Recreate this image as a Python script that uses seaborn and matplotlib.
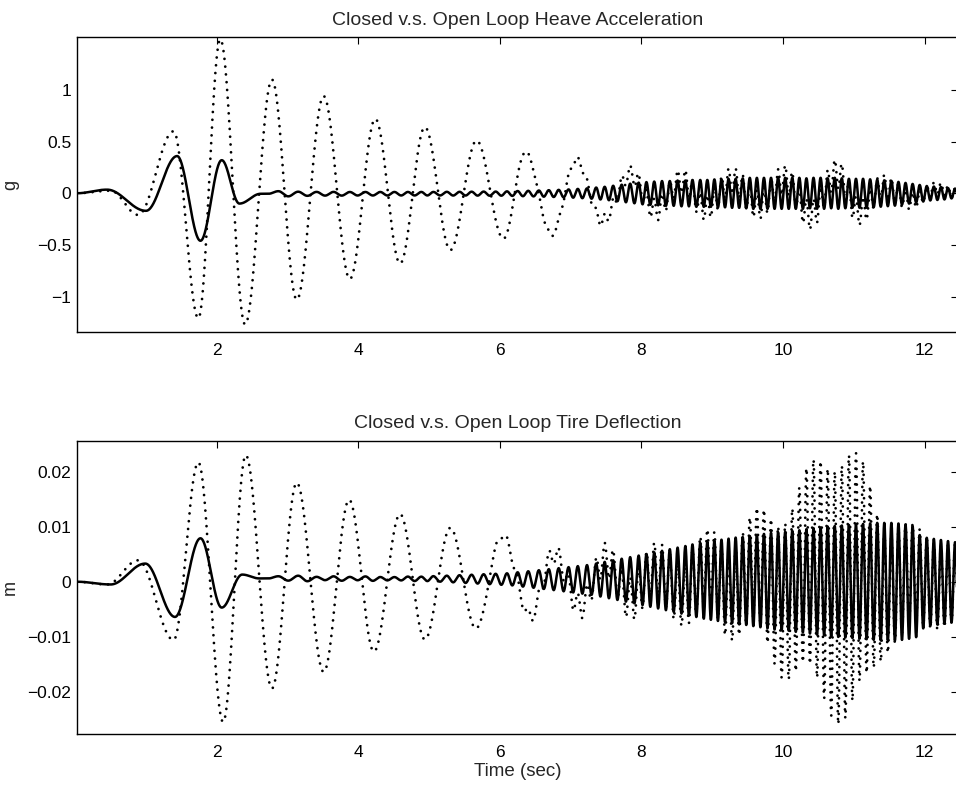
import numpy as np
import pandas as pd
import matplotlib
matplotlib.use("Agg")
import matplotlib.pyplot as plt
import seaborn as sns

# ---- data (extrema of each trace) ----
# slow (body mode) part: times / values of successive peaks and troughs
top_closed_lf_t = [0.025, 0.45, 1.00, 1.44, 1.77, 2.07, 2.32, 2.62, 12.47]
top_closed_lf_v = [0.0, 0.035, -0.17, 0.36, -0.46, 0.32, -0.10, -0.005, 0.0]

top_open_lf_t = [0.025, 0.50, 0.89, 1.39, 1.74, 2.05, 2.40, 2.78, 3.13, 3.51,
                 3.88, 4.24, 4.59, 4.94, 5.30, 5.67, 6.05, 6.36, 6.73, 7.08,
                 7.44, 7.84, 8.19, 8.57, 8.90, 9.28, 9.65, 10.03, 10.38, 10.76,
                 11.07, 11.42, 11.82, 12.18, 12.47]
top_open_lf_v = [0.0, 0.025, -0.21, 0.60, -1.21, 1.49, -1.27, 1.10, -1.03, 0.94,
                 -0.83, 0.72, -0.68, 0.64, -0.55, 0.51, -0.44, 0.40, -0.40, 0.32,
                 -0.27, 0.18, -0.16, 0.12, -0.14, 0.12, -0.11, 0.13, -0.21, 0.19,
                 -0.18, 0.06, -0.07, 0.05, 0.0]

bot_closed_lf_t = [0.025, 0.50, 0.99, 1.41, 1.77, 2.07, 2.36, 2.60, 12.47]
bot_closed_lf_v = [0.0, -0.0005, 0.0033, -0.0064, 0.0079, -0.0047, 0.0013, 0.0006, 0.0]

bot_open_lf_t = [0.025, 0.45, 0.89, 1.39, 1.74, 2.09, 2.41, 2.78, 3.13, 3.51,
                 3.87, 4.22, 4.59, 4.94, 5.30, 5.66, 6.03, 6.43, 6.76, 7.13,
                 7.49, 7.84, 8.19, 8.57, 8.95, 9.25, 9.62, 10.00, 10.38, 10.76,
                 11.10, 11.45, 11.82, 12.20, 12.47]
bot_open_lf_v = [0.0, -0.0005, 0.0039, -0.0106, 0.0217, -0.0255, 0.0230, -0.0194, 0.0180, -0.0164,
                 0.0149, -0.0127, 0.0123, -0.0105, 0.0098, -0.0085, 0.0084, -0.0063, 0.0050, -0.0045,
                 0.0040, -0.0032, 0.0022, -0.0022, 0.0026, -0.0028, 0.0030, -0.0040, 0.0030, -0.0030,
                 0.0030, -0.0020, 0.0015, -0.0010, 0.0]

# fast (wheel hop) ripple: peak time of every cycle and its amplitude per trace
hf_peak_t = [2.87, 3.15, 3.41, 3.65, 3.88, 4.10, 4.31, 4.51, 4.70, 4.89,
             5.06, 5.25, 5.43, 5.60, 5.77, 5.94, 6.10, 6.25, 6.40, 6.55,
             6.69, 6.83, 6.97, 7.10, 7.23, 7.36, 7.48, 7.60, 7.72, 7.84,
             7.96, 8.07, 8.18, 8.29, 8.40, 8.51, 8.62, 8.72, 8.83, 8.93,
             9.03, 9.13, 9.23, 9.33, 9.43, 9.53, 9.63, 9.73, 9.83, 9.93,
             10.03, 10.13, 10.23, 10.33, 10.43, 10.53, 10.63, 10.73, 10.83, 10.93,
             11.03, 11.13, 11.23, 11.33, 11.43, 11.53, 11.63, 11.73, 11.83, 11.93,
             12.03, 12.13, 12.23, 12.33, 12.43]

top_closed_hf = [0.025, 0.02, 0.018, 0.018, 0.017, 0.017, 0.017, 0.017, 0.017, 0.017,
                 0.017, 0.018, 0.018, 0.019, 0.02, 0.02, 0.022, 0.025, 0.027, 0.03,
                 0.033, 0.036, 0.04, 0.045, 0.05, 0.058, 0.065, 0.075, 0.085, 0.095,
                 0.105, 0.11, 0.115, 0.12, 0.12, 0.125, 0.125, 0.13, 0.13, 0.13,
                 0.135, 0.135, 0.14, 0.14, 0.145, 0.15, 0.15, 0.15, 0.15, 0.15,
                 0.15, 0.15, 0.15, 0.145, 0.15, 0.15, 0.145, 0.15, 0.145, 0.14,
                 0.14, 0.14, 0.135, 0.13, 0.125, 0.12, 0.11, 0.10, 0.09, 0.08,
                 0.07, 0.065, 0.06, 0.05, 0.045]
top_open_hf = [0.0, 0.0, 0.0, 0.0, 0.0, 0.0, 0.0, 0.0, 0.0, 0.0,
               0.0, 0.0, 0.0, 0.0, 0.0, 0.0, 0.0, 0.005, 0.01, 0.015,
               0.02, 0.025, 0.03, 0.035, 0.04, 0.05, 0.06, 0.07, 0.08, 0.09,
               0.10, 0.10, 0.11, 0.11, 0.11, 0.12, 0.12, 0.12, 0.12, 0.12,
               0.13, 0.13, 0.13, 0.13, 0.14, 0.14, 0.14, 0.14, 0.14, 0.14,
               0.14, 0.14, 0.14, 0.14, 0.14, 0.14, 0.14, 0.14, 0.14, 0.13,
               0.13, 0.13, 0.12, 0.12, 0.12, 0.11, 0.10, 0.09, 0.08, 0.07,
               0.065, 0.06, 0.055, 0.05, 0.045]
bot_closed_hf = [0.0004, 0.0005, 0.0003, 0.0004, 0.0003, 0.0004, 0.0003, 0.0003, 0.0004, 0.0004,
                 0.0005, 0.0006, 0.0007, 0.0008, 0.0009, 0.0010, 0.0011, 0.0013, 0.0015, 0.0017,
                 0.0019, 0.0021, 0.0023, 0.0025, 0.0027, 0.0030, 0.0033, 0.0036, 0.0039, 0.0042,
                 0.0045, 0.0048, 0.0051, 0.0054, 0.0057, 0.0060, 0.0063, 0.0066, 0.0069, 0.0071,
                 0.0073, 0.0075, 0.0077, 0.0079, 0.0080, 0.0082, 0.0084, 0.0086, 0.0088, 0.0089,
                 0.0090, 0.0092, 0.0093, 0.0095, 0.0097, 0.0098, 0.0100, 0.0101, 0.0102, 0.0103,
                 0.0104, 0.0105, 0.0106, 0.0107, 0.0107, 0.0107, 0.0106, 0.0104, 0.0101, 0.0085,
                 0.0080, 0.0078, 0.0076, 0.0074, 0.0072]
bot_open_hf = [0.0, 0.0, 0.0, 0.0, 0.0, 0.0, 0.0, 0.0, 0.0, 0.0,
               0.0, 0.0, 0.0, 0.0, 0.0, 0.0005, 0.0008, 0.0010, 0.0012, 0.0015,
               0.0017, 0.0019, 0.0021, 0.0023, 0.0025, 0.0028, 0.0031, 0.0034, 0.0037, 0.0040,
               0.0043, 0.0046, 0.0049, 0.0052, 0.0055, 0.0058, 0.0061, 0.0064, 0.0067, 0.0070,
               0.0073, 0.0076, 0.0080, 0.0085, 0.0090, 0.0095, 0.0105, 0.0115, 0.0125, 0.0135,
               0.0145, 0.0155, 0.0165, 0.0180, 0.0195, 0.0210, 0.0220, 0.0230, 0.0235, 0.0230,
               0.0210, 0.0190, 0.0160, 0.0130, 0.0110, 0.0100, 0.0098, 0.0095, 0.0090, 0.0085,
               0.0080, 0.0078, 0.0075, 0.0072, 0.0070]

top_yticks = [-1, -0.5, 0, 0.5, 1]
top_yticklabels = ["\u22121", "\u22120.5", "0", "0.5", "1"]
bot_yticks = [-0.02, -0.01, 0, 0.01, 0.02]
bot_yticklabels = ["\u22120.02", "\u22120.01", "0", "0.01", "0.02"]
xticks = [2, 4, 6, 8, 10, 12]


def through_extrema(knot_t, knot_v, t):
    # half-cosine joins between successive read-off extrema
    knot_t = np.asarray(knot_t, float)
    knot_v = np.asarray(knot_v, float)
    i = np.clip(np.searchsorted(knot_t, t, side="right") - 1, 0, len(knot_t) - 2)
    s = np.clip((t - knot_t[i]) / (knot_t[i + 1] - knot_t[i]), 0, 1)
    return knot_v[i] + (knot_v[i + 1] - knot_v[i]) * (1 - np.cos(np.pi * s)) / 2


def ripple_extrema(peaks, amps):
    peaks = np.asarray(peaks, float)
    amps = np.asarray(amps, float)
    troughs = np.append((peaks[:-1] + peaks[1:]) / 2, peaks[-1] + 0.05)
    kt = np.column_stack([peaks, troughs]).ravel()
    kv = np.column_stack([amps, -amps]).ravel()
    kt = np.concatenate([[0.0, peaks[0] - 0.14], kt, [kt[-1] + 0.05, 13.0]])
    kv = np.concatenate([[0.0, 0.0], kv, [0.0, 0.0]])
    return kt, kv


time = np.arange(0.025, 12.47, 0.002)


def trace(lf_t, lf_v, hf_amp):
    kt, kv = ripple_extrema(hf_peak_t, hf_amp)
    return through_extrema(lf_t, lf_v, time) + through_extrema(kt, kv, time)


df_top = pd.DataFrame({
    "time": time,
    "closed": trace(top_closed_lf_t, top_closed_lf_v, top_closed_hf),
    "open": trace(top_open_lf_t, top_open_lf_v, top_open_hf),
})
df_bot = pd.DataFrame({
    "time": time,
    "closed": trace(bot_closed_lf_t, bot_closed_lf_v, bot_closed_hf),
    "open": trace(bot_open_lf_t, bot_open_lf_v, bot_open_hf),
})

sns.set_style("white")
plt.rcParams["font.family"] = ["Liberation Sans", "DejaVu Sans"]
plt.rcParams["axes.unicode_minus"] = True

fig = plt.figure(figsize=(9.56, 7.88), dpi=100)
ax1 = fig.add_axes([0.0805, 0.5791, 0.9215, 0.3736])
ax2 = fig.add_axes([0.0805, 0.0681, 0.9215, 0.3726])

panels = [
    (ax1, df_top, "Closed v.s. Open Loop Heave Acceleration", "g",
     (-1.34, 1.51), top_yticks, top_yticklabels),
    (ax2, df_bot, "Closed v.s. Open Loop Tire Deflection", "m",
     (-0.02775, 0.02564), bot_yticks, bot_yticklabels),
]

for ax, df, title, ylab, ylim, yt, ytl in panels:
    sns.lineplot(data=df, x="time", y="open", ax=ax, color="black", lw=2.0,
                 linestyle=(0, (0.01, 2.8)), dash_capstyle="round",
                 estimator=None, sort=False)
    sns.lineplot(data=df, x="time", y="closed", ax=ax, color="black", lw=1.8,
                 estimator=None, sort=False)
    ax.set_xlim(0.025, 12.47)
    ax.set_ylim(*ylim)
    ax.set_xticks(xticks)
    ax.set_xticklabels([str(v) for v in xticks])
    ax.set_yticks(yt)
    ax.set_yticklabels(ytl)
    ax.tick_params(direction="in", length=5, width=0.8, top=True, right=True,
                   labelsize=12.5, colors="black")
    ax.tick_params(axis="x", pad=8)
    ax.tick_params(axis="y", pad=4)
    for sp in ax.spines.values():
        sp.set_color("black")
        sp.set_linewidth(1.0)
    ax.set_title(title, fontsize=14, pad=9)
    ax.set_xlabel("")
    ax.set_ylabel(ylab, fontsize=13)
    ax.yaxis.set_label_coords(-0.066, 0.5)

ax2.set_xlabel("Time (sec)", fontsize=13.5, labelpad=2)

fig.savefig("out.png", dpi=100)
